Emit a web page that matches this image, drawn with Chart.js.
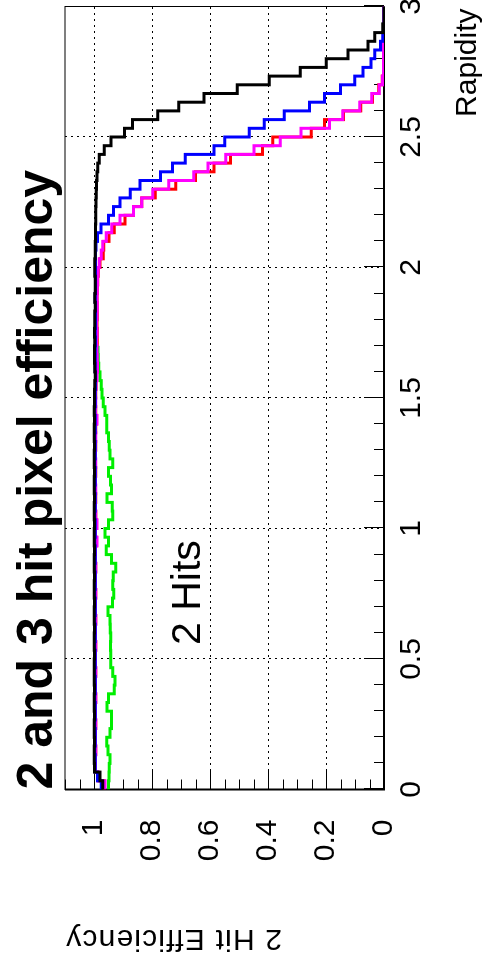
<!DOCTYPE html>
<html>
<head>
<meta charset="utf-8">
<script src="https://cdn.jsdelivr.net/npm/chart.js@4.4.1/dist/chart.umd.min.js"></script>
<style>
  html, body { margin: 0; padding: 0; background: #fff; width: 486px; height: 966px; overflow: hidden; }
  /* the plot is laid out landscape and turned a quarter turn */
  #wrap { position: absolute; left: 0; top: 966px; width: 966px; height: 486px;
          transform-origin: 0 0; transform: rotate(-90deg); background: #fff; }
  canvas { display: block; }
</style>
</head>
<body>
<div id="wrap"><canvas id="eff" width="966" height="486"></canvas></div>
<script>
// ---- texts ----
const chartTitle = '2 and 3 hit pixel efficiency';
const xAxisTitle = 'Rapidity';
const yAxisTitle = '2 Hit Efficiency';
const hitsLabel = '2 Hits';

// ---- axes ----
const rapidityRange = [0, 3];
const rapidityBinCount = 90;
const efficiencyRange = [0, 1.1];
const rapidityTicks = [0, 0.5, 1, 1.5, 2, 2.5, 3];
const rapidityTickLabels = ['0', '0.5', '1', '1.5', '2', '2.5', '3'];
const efficiencyTicks = [0, 0.2, 0.4, 0.6, 0.8, 1];
const efficiencyTickLabels = ['0', '0.2', '0.4', '0.6', '0.8', '1'];

// ---- efficiency per rapidity bin ----
const effBlack = [
  0.970, 0.979, 0.998, 0.999, 0.999, 0.998, 0.999, 0.999, 0.998, 0.999,
  0.999, 0.998, 0.999, 0.999, 0.999, 0.998, 0.999, 0.999, 0.998, 0.999,
  0.999, 0.998, 0.999, 0.999, 0.998, 0.999, 0.999, 0.998, 0.999, 0.999,
  0.998, 0.999, 0.999, 0.998, 0.999, 0.999, 0.998, 0.999, 0.999, 0.998,
  0.999, 0.999, 0.998, 0.999, 0.998, 0.998, 0.997, 0.996, 0.997, 0.998,
  0.998, 0.997, 0.998, 0.997, 0.997, 0.996, 0.997, 0.996, 0.996, 0.997,
  0.997, 0.996, 0.996, 0.995, 0.995, 0.994, 0.994, 0.993, 0.992, 0.991,
  0.990, 0.987, 0.982, 0.965, 0.941, 0.895, 0.867, 0.780, 0.708, 0.621,
  0.506, 0.396, 0.289, 0.199, 0.124, 0.055, 0.032, 0.004, 0.000, 0.000
];
const effBlue = [
  0.975, 0.988, 0.996, 0.996, 0.997, 0.996, 0.996, 0.997, 0.996, 0.996,
  0.997, 0.996, 0.996, 0.997, 0.996, 0.996, 0.997, 0.996, 0.996, 0.997,
  0.996, 0.996, 0.997, 0.996, 0.996, 0.997, 0.996, 0.996, 0.997, 0.996,
  0.996, 0.997, 0.996, 0.996, 0.997, 0.996, 0.996, 0.997, 0.996, 0.996,
  0.997, 0.996, 0.996, 0.997, 0.996, 0.996, 0.995, 0.995, 0.996, 0.996,
  0.996, 0.995, 0.996, 0.995, 0.995, 0.995, 0.996, 0.995, 0.995, 0.995,
  0.995, 0.995, 0.993, 0.988, 0.976, 0.950, 0.933, 0.910, 0.875, 0.841,
  0.771, 0.729, 0.685, 0.586, 0.549, 0.465, 0.413, 0.344, 0.257, 0.205,
  0.150, 0.101, 0.072, 0.045, 0.032, 0.012, 0.004, 0.001, 0.000, 0.000
];
const effRed = [
  0.965, 0.986, 0.995, 0.995, 0.994, 0.995, 0.995, 0.994, 0.995, 0.995,
  0.994, 0.995, 0.995, 0.994, 0.995, 0.995, 0.994, 0.995, 0.995, 0.994,
  0.995, 0.995, 0.994, 0.995, 0.995, 0.994, 0.995, 0.995, 0.992, 0.995,
  0.992, 0.994, 0.995, 0.994, 0.995, 0.995, 0.994, 0.995, 0.995, 0.994,
  0.995, 0.994, 0.992, 0.994, 0.995, 0.994, 0.993, 0.992, 0.992, 0.991,
  0.990, 0.989, 0.989, 0.990, 0.989, 0.989, 0.990, 0.989, 0.987, 0.985,
  0.979, 0.968, 0.966, 0.948, 0.930, 0.893, 0.864, 0.835, 0.789, 0.718,
  0.650, 0.586, 0.529, 0.419, 0.384, 0.251, 0.205, 0.140, 0.080, 0.040,
  0.018, 0.006, 0.002, 0.002, 0.002, 0.002, 0.002, 0.000, 0.000, 0.000
];
const effMagenta = [
  0.962, 0.985, 0.995, 0.995, 0.994, 0.995, 0.995, 0.994, 0.995, 0.995,
  0.994, 0.995, 0.995, 0.994, 0.995, 0.995, 0.994, 0.995, 0.995, 0.994,
  0.995, 0.995, 0.994, 0.995, 0.995, 0.994, 0.995, 0.995, 0.990, 0.995,
  0.990, 0.994, 0.995, 0.995, 0.994, 0.995, 0.995, 0.994, 0.995, 0.995,
  0.994, 0.995, 0.990, 0.995, 0.994, 0.995, 0.993, 0.990, 0.988, 0.989,
  0.990, 0.991, 0.990, 0.991, 0.990, 0.989, 0.990, 0.989, 0.988, 0.986,
  0.982, 0.975, 0.970, 0.958, 0.939, 0.910, 0.864, 0.835, 0.797, 0.742,
  0.656, 0.607, 0.546, 0.448, 0.358, 0.286, 0.188, 0.142, 0.084, 0.042,
  0.016, 0.005, 0.002, 0.002, 0.002, 0.002, 0.002, 0.000, 0.000, 0.000
];
// two-hit curve only covers the first 51 bins
const effGreen = [
  0.950, 0.948, 0.947, 0.945, 0.952, 0.956, 0.945, 0.940, 0.940, 0.955,
  0.950, 0.930, 0.928, 0.935, 0.942, 0.942, 0.943, 0.942, 0.944, 0.945,
  0.952, 0.936, 0.932, 0.935, 0.934, 0.925, 0.940, 0.958, 0.950, 0.962,
  0.950, 0.935, 0.937, 0.955, 0.940, 0.943, 0.950, 0.935, 0.945, 0.947,
  0.950, 0.956, 0.956, 0.962, 0.968, 0.972, 0.975, 0.979, 0.984, 0.985,
  0.986
];

const seriesColors = { black: '#000000', blue: '#0000ff', red: '#ff0000', magenta: '#ff00ff', green: '#00ee00' };

// histogram outline: one point per lower bin edge plus the closing edge
function histogramPoints(values) {
  const width = (rapidityRange[1] - rapidityRange[0]) / rapidityBinCount;
  const pts = values.map((v, k) => ({ x: rapidityRange[0] + k * width, y: v }));
  pts.push({ x: rapidityRange[0] + values.length * width, y: values[values.length - 1] });
  return pts;
}

function histDataset(values, color, order) {
  return {
    data: histogramPoints(values),
    borderColor: color,
    borderWidth: 3,
    stepped: true,
    pointRadius: 0,
    fill: false,
    order: order
  };
}

const FONT = "'Liberation Sans', Arial, Helvetica, sans-serif";

// frame, inward tick marks and text placed around the plot
const frameAndText = {
  id: 'frameAndText',
  beforeDatasetsDraw(chart) {
    const { ctx, chartArea: a, scales: { x, y } } = chart;
    ctx.save();
    ctx.strokeStyle = '#000';
    ctx.lineWidth = 1;
    ctx.beginPath();
    // rapidity axis ticks: every 0.1, longer every 0.5
    for (let i = 0; i <= 30; i++) {
      const px = Math.round(x.getPixelForValue(i / 10)) + 0.5;
      const len = (i % 5 === 0) ? 20 : 10;
      ctx.moveTo(px, a.bottom);
      ctx.lineTo(px, a.bottom - len);
    }
    // efficiency axis ticks: every 0.05, longer every 0.2
    for (let i = 0; i <= 22; i++) {
      const py = Math.round(y.getPixelForValue(i * 0.05)) + 0.5;
      const len = (i % 4 === 0) ? 20 : 10;
      ctx.moveTo(a.left, py);
      ctx.lineTo(a.left + len, py);
    }
    ctx.stroke();
    // frame: thin on the open sides, heavier along both axes
    ctx.lineWidth = 1;
    ctx.strokeRect(a.left, a.top, a.right - a.left, a.bottom - a.top);
    ctx.lineWidth = 2;
    ctx.beginPath();
    ctx.moveTo(a.left, a.top);
    ctx.lineTo(a.left, a.bottom);
    ctx.lineTo(a.right, a.bottom);
    ctx.stroke();
    ctx.restore();
  },
  afterDraw(chart) {
    const { ctx, chartArea: a } = chart;
    ctx.save();
    ctx.fillStyle = '#000';
    ctx.textBaseline = 'alphabetic';
    // title
    ctx.font = 'bold 50px ' + FONT;
    ctx.textAlign = 'left';
    ctx.fillText(chartTitle, a.left, 52);
    // label inside the plot
    ctx.font = '41px ' + FONT;
    ctx.fillText(hitsLabel, 321, 200);
    // x axis title, flush with the axis end
    ctx.font = '30px ' + FONT;
    ctx.textAlign = 'right';
    ctx.fillText(xAxisTitle, a.right - 2, 476);
    // y axis title, turned and flush with the top of the axis
    ctx.translate(36, a.top);
    ctx.rotate(-Math.PI / 2);
    ctx.textAlign = 'right';
    ctx.font = '30px ' + FONT;
    ctx.letterSpacing = '1.2px';
    ctx.fillText(yAxisTitle, 0, 0);
    ctx.restore();
  }
};

new Chart(document.getElementById('eff'), {
  type: 'line',
  data: {
    datasets: [
      histDataset(effBlack, seriesColors.black, 0),
      histDataset(effBlue, seriesColors.blue, 1),
      histDataset(effMagenta, seriesColors.magenta, 2),
      histDataset(effGreen, seriesColors.green, 3),
      histDataset(effRed, seriesColors.red, 4)
    ]
  },
  options: {
    responsive: false,
    animation: false,
    events: [],
    layout: { padding: { top: 65, right: 6.5, left: 0, bottom: 0 } },
    plugins: { legend: { display: false }, tooltip: { enabled: false }, title: { display: false } },
    scales: {
      x: {
        type: 'linear',
        position: 'bottom',
        min: rapidityRange[0],
        max: rapidityRange[1],
        afterBuildTicks: s => { s.ticks = rapidityTicks.map(v => ({ value: v })); },
        afterFit: s => { s.height = 102; s.paddingLeft = 0; s.paddingRight = 0; },
        ticks: {
          autoSkip: false, maxRotation: 0, minRotation: 0,
          padding: 10, color: '#000',
          font: { family: FONT, size: 30 },
          callback: (v, i) => rapidityTickLabels[i]
        },
        grid: { color: '#000', lineWidth: 1, drawTicks: false },
        border: { display: false, dash: [2, 4] }
      },
      y: {
        type: 'linear',
        position: 'left',
        min: efficiencyRange[0],
        max: efficiencyRange[1],
        afterBuildTicks: s => { s.ticks = efficiencyTicks.map(v => ({ value: v })); },
        afterFit: s => { s.width = 176.5; s.paddingTop = 0; s.paddingBottom = 0; },
        ticks: {
          autoSkip: false, padding: 30, color: '#000',
          font: { family: FONT, size: 30 },
          callback: (v, i) => efficiencyTickLabels[i]
        },
        grid: { color: '#000', lineWidth: 1, drawTicks: false },
        border: { display: false, dash: [2, 4] }
      }
    }
  },
  plugins: [frameAndText]
});
</script>
</body>
</html>
